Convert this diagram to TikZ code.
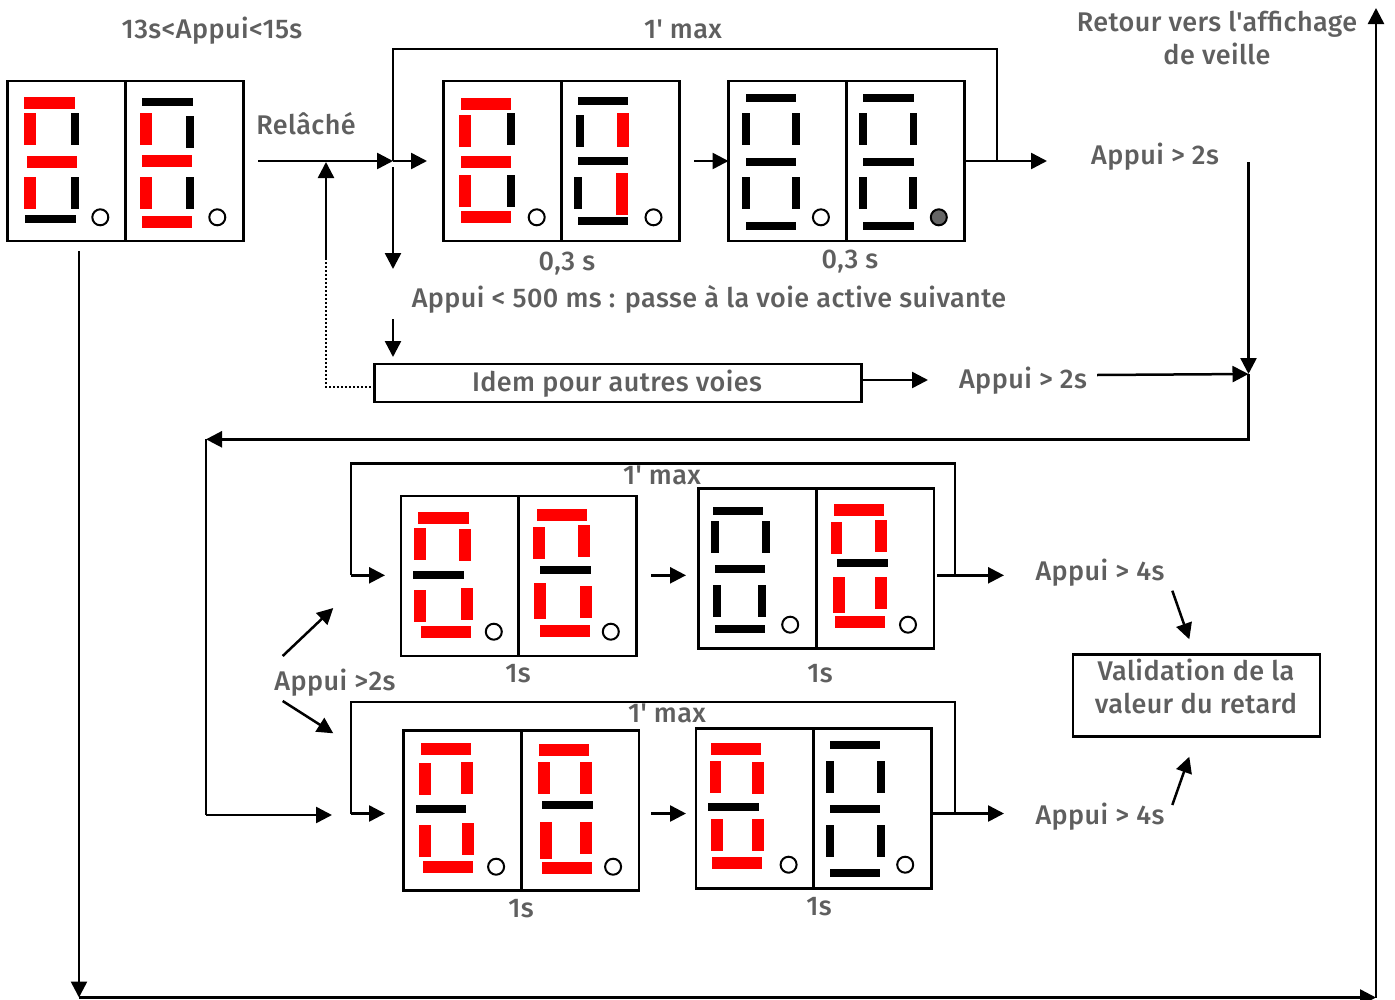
\documentclass[tikz,border=0pt]{standalone}
\usepackage{fontspec}
\setmainfont{Fira Sans}[BoldFont={Fira Sans Medium},Ligatures=TeXOff,LetterSpace=1.5]
\usetikzlibrary{arrows.meta,positioning}
\definecolor{txtgray}{HTML}{5F5F5F}
\tikzset{
    flow/.style={line width=2.5pt,-{Triangle[length=16pt,width=16pt]}},
    wire/.style={line width=2.2pt},
    boite/.style={draw,line width=2.1pt,inner sep=0pt,outer sep=0pt,anchor=north west},
    txt/.style={text=txtgray,font=\fontsize{27}{30}\selectfont\bfseries,anchor=base,inner sep=0pt},
    ledoff/.style={draw,line width=2pt,fill=white},
    ledon/.style={draw,line width=2pt,fill=black!60},
}
\begin{document}
\begin{tikzpicture}[x=1pt,y=-1pt]
    \useasboundingbox (0,0) rectangle (1395,999);

    % Afficheurs
    \node[boite,minimum width=118,minimum height=160] (dispAl) at (7.5,81) {};
    \node[boite,minimum width=118,minimum height=160] (dispAr) at (125.5,81) {};
    \node[boite,minimum width=118,minimum height=160] (dispBl) at (443.5,81) {};
    \node[boite,minimum width=118,minimum height=160] (dispBr) at (561.5,81) {};
    \node[boite,minimum width=118,minimum height=160] (dispCl) at (728.5,81) {};
    \node[boite,minimum width=118,minimum height=160] (dispCr) at (846.5,81) {};
    \node[boite,minimum width=118,minimum height=160] (dispDl) at (401,495.7) {};
    \node[boite,minimum width=118,minimum height=160] (dispDr) at (518.5,495.7) {};
    \node[boite,minimum width=118,minimum height=160] (dispEl) at (698.5,488.5) {};
    \node[boite,minimum width=118,minimum height=160] (dispEr) at (816,488.5) {};
    \node[boite,minimum width=118,minimum height=160] (dispFl) at (403.5,730.5) {};
    \node[boite,minimum width=118,minimum height=160] (dispFr) at (521,730.5) {};
    \node[boite,minimum width=118,minimum height=160] (dispGl) at (696,728.5) {};
    \node[boite,minimum width=118,minimum height=160] (dispGr) at (813.5,728.5) {};
    \node[boite,minimum width=487,minimum height=38] (idem) at (374.5,364) {};
    \node[boite,minimum width=247,minimum height=82] (valid) at (1073,654.5) {};

    % Segments
    \foreach \xa/\ya/\xb/\yb/\col in {
        24.3/97.3/75/109.3/red, 24.3/113.3/36.3/145.3/red, 71/113.3/79/145.3/black, 27/156.3/77.3/168.3/red,
        24.3/177.3/36.3/209.3/red, 71/177.3/79/209.3/black, 25.3/215.3/76/223.3/black,
        142.3/97.7/192.7/105.7/black, 140/113.3/152/145.3/red, 186.3/116/194.3/147.7/black, 142/155.3/192.3/167.3/red,
        140/177.3/152/209.3/red, 186/177.3/194/209.3/black, 142/215.7/192.3/227.7/red,
        460.9/97.7/511.4/109.7/red, 459.1/115.3/471/147.3/red, 507.2/113.3/514.9/145.3/black, 460.9/155.7/511.4/167.7/red,
        459.1/175.3/471/207.3/red, 507.2/175.3/514.9/207.3/black, 460.9/211.3/511.4/223.3/red,
        578/97.3/628.2/105.3/black, 576/115.3/584/147.3/black, 616.7/113.3/628.6/147.3/red, 578/157.3/628.2/165.3/black,
        574.2/177.3/582/209.3/black, 616.3/173/628.2/215.3/red, 578/217.3/628.2/225.3/black,
        745.8/93.7/796/101.7/black, 741.9/113.3/749.6/145.3/black, 792.1/113.3/800.2/145.3/black, 745.8/157.7/796/165.7/black,
        741.9/177.3/749.6/209.3/black, 792.1/177.3/800.2/209.3/black, 745.8/221.7/796/229.7/black,
        863/93.7/913.9/101.7/black, 859.1/113.3/867.2/145.3/black, 909.6/113.3/917.4/145.3/black, 863/157.7/913.9/165.7/black,
        859.1/177.3/867.2/209.3/black, 909.3/177.3/917/209.3/black, 863/221.7/913.9/229.7/black,
        418.3/512/468.5/524/red, 414.3/527.7/426.2/559.7/red, 459/529/470.8/561/red, 413.1/570.7/463.7/578.7/black,
        414.3/589.7/426.2/621.7/red, 461/588/473.2/620/red, 420.6/626.3/470.8/638.3/red,
        536.8/509/587/521/red, 533.3/527.3/544.7/559.3/red, 578/525.3/589.8/557.3/red, 540/565.7/590.6/573.7/black,
        534/583.3/546/619.3/red, 579.9/585.7/591.8/617.7/red, 539.6/625/589.8/637/red,
        713.1/507/763.3/515/black, 711.1/520.7/719/552.7/black, 761.7/520.7/769.6/552.7/black, 715.1/565/765.3/573/black,
        713.1/585/721/617/black, 757.8/585/765.7/617/black, 715.1/625/765.3/633/black,
        834/504/884.3/516/red, 830.5/522.3/842.4/554.3/red, 875.2/520.3/887/552.3/red, 837.2/559/887.8/567/black,
        832.9/576.7/844.7/612.7/red, 875.2/576.7/887/608.7/red, 834.9/616/885/628/red,
        420.6/743/470.8/755/red, 418.7/762.7/430.5/794.7/red, 461.3/762/473.2/794/red, 415.9/805.3/466.1/813.3/black,
        418.7/824.7/430.5/856.7/red, 461.7/823/473.6/855/red, 423/861/473.2/873/red,
        539.2/744/589.4/756/red, 537.6/762/549.5/794/red, 580.3/762/592.2/794/red, 542.4/800.7/593/808.7/black,
        540.4/822/552.3/858.7/red, 580.3/822.3/592.2/854.3/red, 542/862/592.2/874/red,
        711.1/743/761.3/755/red, 709.6/760.7/721.4/792.7/red, 751.9/762/763.7/794/red, 708.4/803.3/758.6/811.3/black,
        711.1/818.7/723/850.7/red, 752.3/819/764.1/851/red, 711.9/857.3/761.7/869.3/red,
        830.1/741/880.3/749/black, 826.2/760.7/834.1/792.7/black, 876.8/760.7/884.7/792.7/black, 830.1/805/880.3/813/black,
        826.2/824.7/834.1/856.7/black, 876.8/824.7/884.7/856.7/black, 830.1/869/880.3/877/black}
        \fill[\col] (\xa,\ya) rectangle (\xb,\yb);

    % Points decimaux
    \foreach \xa/\ya in {100.3/217.3, 217.3/217.3, 536.7/217.3, 653.5/217.3, 820.9/217.3, 493.8/631.7, 610.8/631.7,
        790.2/624.7, 908/624.7, 496.1/866.7, 613.1/866.7, 788.6/864.7, 905.2/864.7}
        \draw[ledoff] (\xa,\ya) circle (8);
    \draw[ledon] (938.8,217.3) circle (8);

    % Textes
    \node[txt] (titre) at (212,38) {13s<Appui<15s};
    \node[txt] (maxA) at (683,38) {1' max};
    \node[txt] (retourA) at (1217,31) {Retour vers l'affichage};
    \node[txt] (retourB) at (1217,64.5) {de veille};
    \node[txt] (relache) at (306,134.5) {Relâché};
    \node[txt] (appuiA) at (1155,164) {Appui > 2s};
    \node[txt] (tempoA) at (567,270) {0,3 s};
    \node[txt] (tempoB) at (850,268) {0,3 s};
    \node[txt] (voie) at (709,307) {Appui < 500 ms : passe à la voie active suivante};
    \node[txt] (idemtxt) at (617,391) {Idem pour autres voies};
    \node[txt] (appuiB) at (1023,388) {Appui > 2s};
    \node[txt] (maxB) at (662,484) {1' max};
    \node[txt] (appuiC) at (1100,580) {Appui > 4s};
    \node[txt] (tempoC) at (518,682) {1s};
    \node[txt] (tempoD) at (820,682) {1s};
    \node[txt] (validA) at (1196,680) {Validation de la};
    \node[txt] (validB) at (1196,713) {valeur du retard};
    \node[txt] (appuiD) at (335,690) {Appui >2s};
    \node[txt] (maxC) at (667,722) {1' max};
    \node[txt] (appuiE) at (1100,824) {Appui > 4s};
    \node[txt] (tempoE) at (521,917) {1s};
    \node[txt] (tempoF) at (819,915) {1s};

    % Points de passage
    \coordinate (relstart) at (258,161);
    \coordinate (nodeA) at (393,161);
    \coordinate (nodeB) at (427,161);
    \coordinate (downA) at (393,167);
    \coordinate (downB) at (393,269);
    \coordinate (downC) at (393,319);
    \coordinate (downD) at (393,357);
    \coordinate (upA) at (326,258);
    \coordinate (upB) at (326,162);
    \coordinate (midA) at (694,161);
    \coordinate (loopA) at (997,161);
    \coordinate (outA) at (1047,161);
    \coordinate (outB) at (928,380);
    \coordinate (rightA) at (1248.5,162);
    \coordinate (rightB) at (1248.5,374);
    \coordinate (fromB) at (1097,375);
    \coordinate (backA) at (206,439.3);
    \coordinate (backB) at (206,815);
    \coordinate (backC) at (332,815);
    \coordinate (leftD) at (350.7,575.3);
    \coordinate (inD) at (385,575.3);
    \coordinate (midD) at (651,575.3);
    \coordinate (toE) at (686,575.3);
    \coordinate (loopD) at (955,575.3);
    \coordinate (fromD) at (937,575.3);
    \coordinate (outD) at (1004,575.3);
    \coordinate (leftF) at (350.7,813.5);
    \coordinate (inF) at (385,813.5);
    \coordinate (midF) at (651,813.5);
    \coordinate (toG) at (686,813.5);
    \coordinate (loopF) at (955,813.5);
    \coordinate (outF) at (1004,813.5);
    \coordinate (branchA) at (282.7,656);
    \coordinate (branchB) at (333.3,608);
    \coordinate (branchC) at (282.7,701);
    \coordinate (branchD) at (333.3,733.3);
    \coordinate (validIn) at (1172.3,590.7);
    \coordinate (validInB) at (1189.3,639.3);
    \coordinate (validUp) at (1172.3,805);
    \coordinate (validUpB) at (1189.3,756.7);
    \coordinate (sleepA) at (79,251);
    \coordinate (sleepB) at (79,997.5);
    \coordinate (sleepC) at (1376,997.5);
    \coordinate (sleepD) at (1376,8);

    % Liaisons
    \draw[flow] (relstart) -- (nodeA);
    \draw[flow] (nodeA) -- (nodeB);
    \draw[flow] (downA) -- (downB);
    \draw[flow] (downC) -- (downD);
    \draw[flow] (upA) -- (upB);
    \draw[line width=1.6pt,dash pattern=on 2pt off 2pt] (upA) |- (idem.west |- 0,387);
    \draw[wire] (nodeA) |- (683,49) -| (loopA);
    \draw[flow] (midA) -- (dispCl.west);
    \draw[flow] (dispCr.east) -- (outA);
    \draw[flow] (idem.east |- outB) -- (outB);
    \draw[flow] (rightA) -- (rightB);
    \draw[flow] (fromB) -- (rightB);
    \draw[flow] (rightB) |- (backA);
    \draw[wire] (backA) -- (backB);
    \draw[flow] (backB) -- (backC);
    \draw[flow] (leftD) -- (inD);
    \draw[wire] (leftD) |- (653,463.5) -| (loopD);
    \draw[flow] (midD) -- (toE);
    \draw[flow] (fromD) -- (outD);
    \draw[flow] (leftF) -- (inF);
    \draw[wire] (leftF) |- (653,702) -| (loopF);
    \draw[flow] (midF) -- (toG);
    \draw[flow] (dispGr.east |- outF) -- (outF);
    \draw[flow] (branchA) -- (branchB);
    \draw[flow] (branchC) -- (branchD);
    \draw[flow] (validIn) -- (validInB);
    \draw[flow] (validUp) -- (validUpB);
    \draw[flow] (sleepA) -- (sleepB);
    \draw[flow] (sleepB) -- (sleepC);
    \draw[flow] (sleepC) -- (sleepD);
\end{tikzpicture}
\end{document}
